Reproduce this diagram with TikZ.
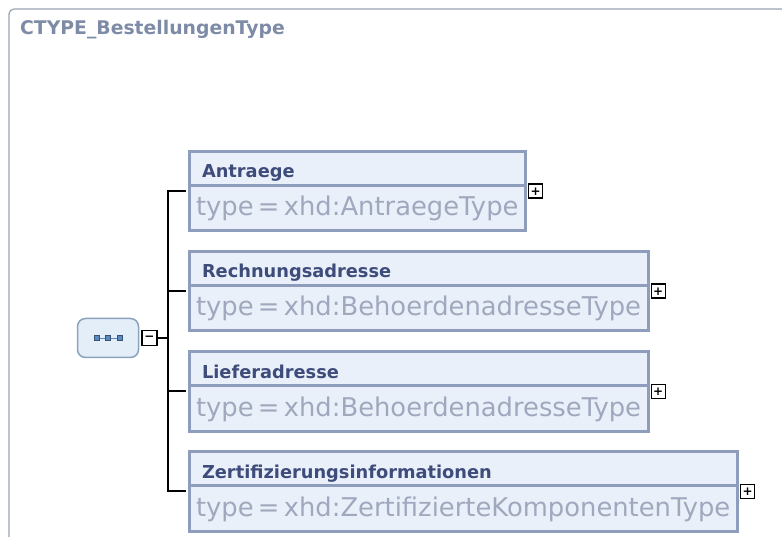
\documentclass[tikz,border=0pt]{standalone}
\usepackage{fontspec}
\setmainfont{DejaVu Sans}
\usetikzlibrary{positioning,shapes.multipart}

\definecolor{outerline}{HTML}{9AA3B0}
\definecolor{titlecol}{HTML}{7D8BA6}
\definecolor{elemfill}{HTML}{EAF0FA}
\definecolor{elemline}{HTML}{8E9DBB}
\definecolor{namecol}{HTML}{3E4C7C}
\definecolor{typecol}{HTML}{A0A8BE}
\definecolor{seqfill}{HTML}{E4EEF9}
\definecolor{seqline}{HTML}{8CA3BC}
\definecolor{seqicon}{HTML}{5A8AC0}

\newcommand\elname[1]{\rule[-6pt]{0pt}{31pt}\hspace{6pt}{\bfseries\fontsize{17.8}{20}\selectfont\color{namecol}#1}}
\newcommand\eltype[1]{\rule[-13.5pt]{0pt}{42.5pt}{\fontsize{25.8}{28}\selectfont\color{typecol}type\,=\,xhd:#1}\hspace{4pt}}

\tikzset{
  elembox/.style={rectangle split, rectangle split parts=2, rectangle split part align=left,
    draw=elemline, fill=elemfill, line width=3pt, inner xsep=7pt, inner ysep=0pt, anchor=north west},
  togglebox/.style={draw, line width=1.5pt, fill=white, minimum size=14pt, inner sep=0pt,
    font=\bfseries\fontsize{12}{12}\selectfont},
  wire/.style={line width=1.6pt},
}

\begin{document}
\begin{tikzpicture}[x=1pt,y=1pt]
  \useasboundingbox (0,0) rectangle (782,-537);
  \clip (0,0) rectangle (782,-537);
  \draw[outerline, line width=1.2pt, rounded corners=5pt] (9,-9) rectangle (800,-560);
  \node[anchor=base west, inner sep=0pt, text=titlecol, font=\bfseries\fontsize{18.8}{20}\selectfont] (title) at (20,-35) {CTYPE\_BestellungenType};

  % sequence compositor
  \node[draw=seqline, fill=seqfill, line width=1.5pt, rounded corners=8pt, minimum width=61pt, minimum height=39pt] (seq) at (108,-338) {};
  \draw[seqicon, line width=0.8pt] ([xshift=-11.5pt]seq.center) -- ([xshift=11.5pt]seq.center);
  \foreach \i in {-1,0,1}
    \filldraw[fill=seqicon, draw=seqicon!60!black, line width=0.5pt] ([xshift=\i*11.5pt]seq.center) +(-2.5,-2.5) rectangle +(2.5,2.5);
  \node[togglebox, minimum size=15pt, right=2pt of seq] (seqminus) {−};

  % child elements
  \node[elembox] (antraege) at (187.5,-150) {\elname{Antraege}\nodepart{two}\eltype{AntraegeType}};
  \node[elembox] (rechnung) at (187.5,-250) {\elname{Rechnungsadresse}\nodepart{two}\eltype{BehoerdenadresseType}};
  \node[elembox] (liefer) at (187.5,-350) {\elname{Lieferadresse}\nodepart{two}\eltype{BehoerdenadresseType}};
  \node[elembox] (zert) at (187.5,-450) {\elname{Zertifizierungsinformationen}\nodepart{two}\eltype{ZertifizierteKomponentenType}};

  \node[togglebox, right=1pt of antraege] (antraegeplus) {+};
  \node[togglebox, right=1pt of rechnung] (rechnungplus) {+};
  \node[togglebox, right=1pt of liefer] (lieferplus) {+};
  \node[togglebox, right=1pt of zert] (zertplus) {+};

  % connectors
  \coordinate (trunk) at ([xshift=10pt]seqminus.east);
  \draw[wire] (seqminus.east) -- (trunk);
  \foreach \c in {antraege,rechnung,liefer,zert}
    \draw[wire] (trunk) |- ([xshift=-1.5pt]\c.west);
\end{tikzpicture}
\end{document}
